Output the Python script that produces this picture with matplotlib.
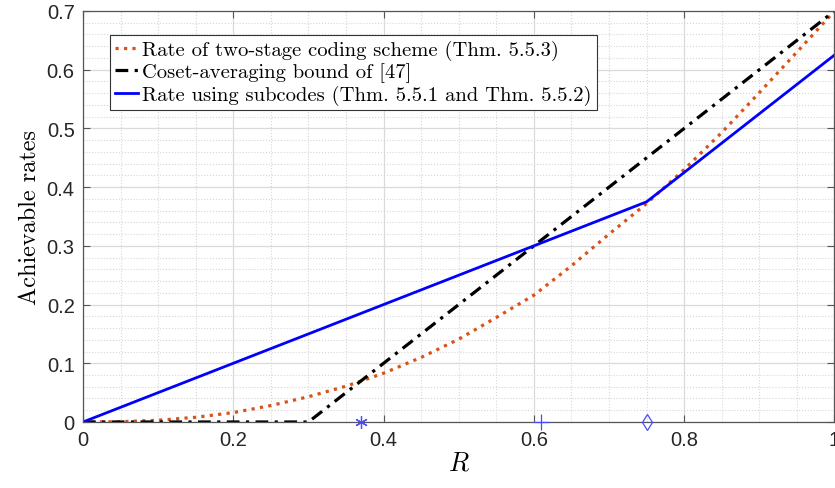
import matplotlib
matplotlib.use('Agg')
import matplotlib.pyplot as plt
from matplotlib.ticker import MultipleLocator

'''Data read off the reference'''
R_twostage = [0.0, 0.05, 0.1, 0.15, 0.2, 0.25, 0.3, 0.35, 0.4, 0.45, 0.5,
              0.55, 0.6, 0.65, 0.7, 0.75, 0.8, 0.85, 0.9, 0.95, 1.0]
rate_twostage = [0.0, 0.0005, 0.003, 0.008, 0.016, 0.028, 0.043, 0.061, 0.083, 0.11, 0.141,
                 0.178, 0.216, 0.266, 0.32, 0.372, 0.43, 0.493, 0.561, 0.63, 0.7]

R_coset = [0.0, 0.3, 1.0]
rate_coset = [0.0, 0.0, 0.7]

R_subcodes = [0.0, 0.75, 1.0]
rate_subcodes = [0.0, 0.375, 0.625]

marker_R = [0.37, 0.61, 0.75]
marker_styles = [(6, 2, 0), '+', 'd']
marker_sizes = [9, 11, 8]

x_ticks = [0, 0.2, 0.4, 0.6, 0.8, 1.0]
x_ticklabels = ['0', '0.2', '0.4', '0.6', '0.8', '1']
y_ticks = [0, 0.1, 0.2, 0.3, 0.4, 0.5, 0.6, 0.7]
y_ticklabels = ['0', '0.1', '0.2', '0.3', '0.4', '0.5', '0.6', '0.7']

label_twostage = 'Rate of two-stage coding scheme (Thm. 5.5.3)'
label_coset = 'Coset-averaging bound of [47]'
label_subcodes = 'Rate using subcodes (Thm. 5.5.1 and Thm. 5.5.2)'

'''Plot'''
plt.rcParams['mathtext.fontset'] = 'cm'
fig = plt.figure(figsize=(8.35, 4.89), dpi=100)
ax = fig.add_axes([0.0994, 0.135, 0.9, 0.8405])

ax.plot(R_twostage, rate_twostage, linestyle=':', color='#D95319', linewidth=2.3, label=label_twostage)
ax.plot(R_coset, rate_coset, linestyle='-.', color='black', linewidth=2.3, label=label_coset,
        dashes=(4, 2, 1, 2))
ax.plot(R_subcodes, rate_subcodes, linestyle='-', color='#0000FF', linewidth=2.0, label=label_subcodes)

for r, m, ms in zip(marker_R, marker_styles, marker_sizes):
    ax.plot(r, 0, marker=m, color='#4a4aff', markersize=ms,
            markerfacecolor='none', markeredgewidth=0.9, linestyle='none', clip_on=False, zorder=5)

ax.set_xlim(0, 1)
ax.set_ylim(0, 0.7)
ax.set_xticks(x_ticks, x_ticklabels)
ax.set_yticks(y_ticks, y_ticklabels)
ax.xaxis.set_minor_locator(MultipleLocator(0.05))
ax.yaxis.set_minor_locator(MultipleLocator(0.02))

ax.grid(which='major', color='#dadada', linewidth=0.9, linestyle='-')
ax.grid(which='minor', color='#d6d6d6', linewidth=0.8, linestyle=':')
ax.set_axisbelow(True)

ax.tick_params(which='major', direction='in', top=True, right=True, length=5,
               color='#555555', labelsize=14.5, labelcolor='#262626', pad=6)
ax.tick_params(which='minor', length=0)
for lab in ax.get_xticklabels() + ax.get_yticklabels():
    lab.set_family('Liberation Sans')
for s in ax.spines.values():
    s.set_color('#555555')
    s.set_linewidth(0.9)

ax.set_xlabel('$R$', fontsize=19, labelpad=0)
ax.set_ylabel('Achievable rates', family='cmr10', fontsize=17.5, labelpad=4)

leg = ax.legend(loc='upper left', bbox_to_anchor=(0.036, 0.942), borderaxespad=0,
                prop={'family': 'cmr10', 'size': 14.8}, fancybox=False, framealpha=1,
                edgecolor='#333333', handlelength=1.1, handletextpad=0.2,
                borderpad=0.25, labelspacing=0.12)
leg.get_frame().set_linewidth(0.8)

plt.savefig('out.png', dpi=100)
